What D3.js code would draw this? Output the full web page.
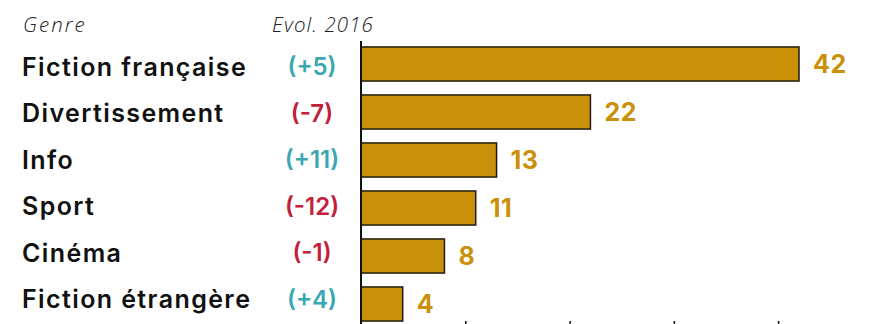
<!DOCTYPE html>
<html>
<head>
<meta charset="utf-8">
<script src="https://cdn.jsdelivr.net/npm/d3@7"></script>
<style>
  html, body { margin: 0; padding: 0; background: #fff; }
  svg { display: block; }
</style>
</head>
<body>
<svg id="chart" width="880" height="324"></svg>
<script>
// Genres, their share and their evolution since 2016
const genres = ["Fiction française", "Divertissement", "Info", "Sport", "Cinéma", "Fiction étrangère"];
const values = [42, 22, 13, 11, 8, 4];
const evolutions = ["(+5)", "(-7)", "(+11)", "(-12)", "(-1)", "(+4)"];
const axisTicks = [10, 20, 30, 40];
const headers = { genre: "Genre", evol: "Evol. 2016" };

const BAR = "#c9900a";
const UP = "#3aa8b2";
const DOWN = "#c2203b";
const FONT = "Inter, 'Open Sans', sans-serif";
const HEAD_FONT = "'Open Sans', sans-serif";

const svg = d3.select("#chart");
const x0 = 361;

const x = d3.scaleLinear().domain([0, 42]).range([x0, 799]);
const y = d3.scaleBand().domain(genres).range([40, 328]).paddingInner(0.29).paddingOuter(0.145);
const yLabel = d3.scalePoint().domain(genres).range([66.5, 299]);

// headers
svg.append("text").attr("x", 23).attr("y", 32)
  .attr("font-family", HEAD_FONT).attr("font-style", "italic").attr("font-weight", 300)
  .attr("font-size", 20.5).attr("letter-spacing", 2).attr("fill", "#222").text(headers.genre);
svg.append("text").attr("x", 374).attr("y", 32).attr("text-anchor", "end")
  .attr("font-family", HEAD_FONT).attr("font-style", "italic").attr("font-weight", 300)
  .attr("font-size", 20.5).attr("letter-spacing", 1.1).attr("fill", "#222").text(headers.evol);

// bars
svg.append("g").selectAll("rect").data(genres).join("rect")
  .attr("x", x(0))
  .attr("y", d => y(d))
  .attr("width", (d, i) => x(values[i]) - x(0))
  .attr("height", y.bandwidth())
  .attr("fill", BAR)
  .attr("stroke", "#1f1a10")
  .attr("stroke-width", 1.5);

// value labels
svg.append("g").selectAll("text").data(genres).join("text")
  .attr("x", (d, i) => x(values[i]) + 14)
  .attr("y", d => y(d) + y.bandwidth() / 2)
  .attr("dy", "0.36em")
  .attr("font-family", FONT).attr("font-weight", 700).attr("font-size", 25)
  .attr("letter-spacing", 0.5)
  .attr("fill", BAR)
  .text((d, i) => values[i]);

// category labels
svg.append("g").selectAll("text").data(genres).join("text")
  .attr("x", 22)
  .attr("y", d => yLabel(d))
  .attr("dy", "0.36em")
  .attr("font-family", FONT).attr("font-weight", 600).attr("font-size", 25)
  .attr("letter-spacing", 1.4)
  .attr("fill", "#111")
  .text(d => d);

// evolution labels
svg.append("g").selectAll("text").data(genres).join("text")
  .attr("x", 312)
  .attr("y", d => yLabel(d))
  .attr("dy", "0.36em")
  .attr("text-anchor", "middle")
  .attr("font-family", FONT).attr("font-weight", 600).attr("font-size", 24)
  .attr("fill", (d, i) => evolutions[i].startsWith("(+") ? UP : DOWN)
  .text((d, i) => evolutions[i]);

// bottom ticks
const xAxis = svg.append("g").attr("transform", "translate(0,321)")
  .call(d3.axisBottom(x).tickValues(axisTicks).tickSize(6).tickFormat(""));
xAxis.select(".domain").remove();
xAxis.selectAll(".tick line").attr("stroke", "#111").attr("stroke-width", 1.5);

// vertical baseline
svg.append("line").attr("x1", x0).attr("x2", x0).attr("y1", 41).attr("y2", 324)
  .attr("stroke", "#111").attr("stroke-width", 2);
</script>
</body>
</html>
